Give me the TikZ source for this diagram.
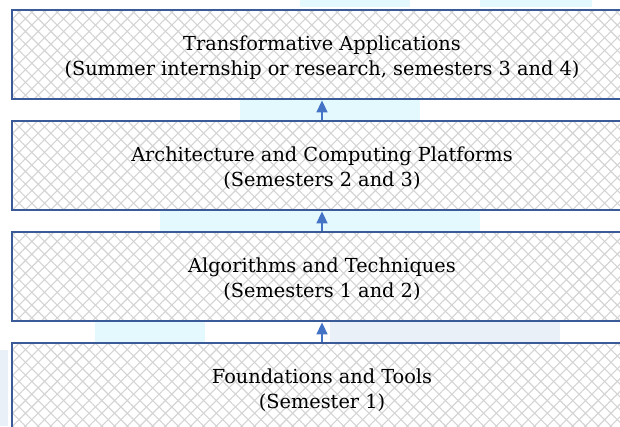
\documentclass[tikz,border=0pt]{standalone}
\usepackage{fontspec}
\setmainfont{DejaVu Serif}
\usetikzlibrary{patterns.meta,arrows.meta}
\definecolor{boxblue}{HTML}{3B5A98}
\definecolor{arrowblue}{HTML}{4472C4}
\definecolor{wmark}{HTML}{E4F9FD}
\definecolor{wmark2}{HTML}{EAF0F8}
\tikzset{
  layer/.style={draw=boxblue, line width=2.8bp,
    preaction={fill=white},
    preaction={pattern={Lines[angle=45,distance=9bp,line width=1.1bp]}, pattern color=black!17},
    preaction={pattern={Lines[angle=-45,distance=9bp,line width=1.1bp]}, pattern color=black!17},
    minimum width=620bp, minimum height=89bp, inner sep=0pt},
  label/.style={anchor=base, inner sep=0pt, font=\fontsize{19.4}{26}\selectfont, text=black},
  uparrow/.style={draw=arrowblue, line width=1.6bp, -{Triangle[length=12bp,width=11bp]}},
  wm/.style={fill=wmark, draw=none}
}
\begin{document}
\begin{tikzpicture}[x=1bp,y=-1bp]
\useasboundingbox (0,0) rectangle (620,426);
\clip (0,0) rectangle (620,426);
% faint background watermark
\fill[wm] (300,0) rectangle (410,7);
\fill[wm] (480,0) rectangle (592,7);
\fill[wm] (240,100) rectangle (420,120);
\fill[wm] (160,211) rectangle (480,231);
\fill[wm] (95,322) rectangle (205,342);
\fill[wmark2] (330,322) rectangle (560,342);
\fill[wmark2] (0,350) rectangle (8,426);
% layers
\node[layer] (b1) at (322,54.5) {};
\node[layer] (b2) at (322,165.5) {};
\node[layer] (b3) at (322,276.5) {};
\node[layer, minimum height=170bp] (b4) at (322,428) {};
% texts
\node[label] (t1a) at (322,50) {Transformative Applications};
\node[label] (t1b) at (322,75.7) {(Summer internship or research, semesters 3 and 4)};
\node[label] (t2a) at (322,161) {Architecture and Computing Platforms};
\node[label] (t2b) at (322,186.7) {(Semesters 2 and 3)};
\node[label] (t3a) at (322,272) {Algorithms and Techniques};
\node[label] (t3b) at (322,297.7) {(Semesters 1 and 2)};
\node[label] (t4a) at (322,383) {Foundations and Tools};
\node[label] (t4b) at (322,408.7) {(Semester 1)};
% arrows
\draw[uparrow] (b2.north) -- (b1.south);
\draw[uparrow] (b3.north) -- (b2.south);
\draw[uparrow] (b4.north) -- (b3.south);
\end{tikzpicture}
\end{document}
